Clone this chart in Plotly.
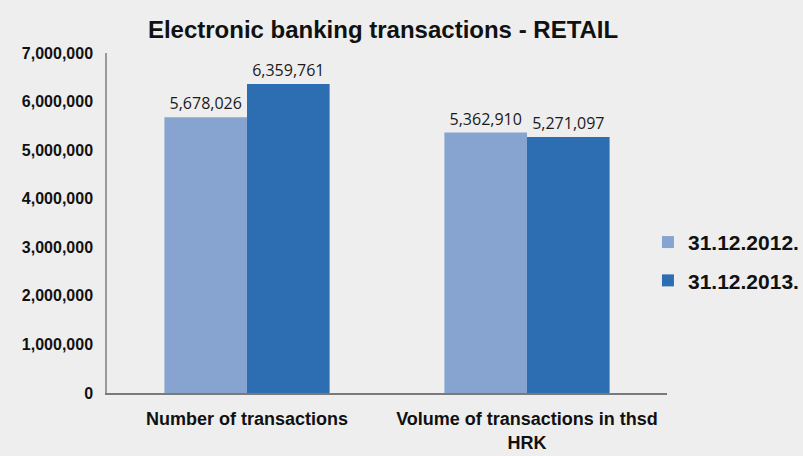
import plotly.graph_objects as go

categories = ["Number of transactions", "Volume of transactions in thsd<br>HRK"]
series_names = ["31.12.2012.", "31.12.2013."]
values_2012 = [5678026, 5362910]
values_2013 = [6359761, 5271097]
tick_vals = [0, 1000000, 2000000, 3000000, 4000000, 5000000, 6000000, 7000000]
tick_text = ["0", "1,000,000", "2,000,000", "3,000,000", "4,000,000", "5,000,000", "6,000,000", "7,000,000"]

colors = ["#87a3cf", "#2d6eb2"]
label_font = dict(family="Open Sans, Liberation Sans, sans-serif", size=16, color="#1a1a1a")
bold_font = "Liberation Sans, Arial, sans-serif"

fig = go.Figure()
for name, vals, col in zip(series_names, [values_2012, values_2013], colors):
    fig.add_trace(go.Bar(
        x=categories, y=vals, name=name, legendgroup=name,
        marker=dict(color=col, line=dict(width=0)),
        text=[f"{v:,}" for v in vals], textposition="outside", textfont=label_font,
        cliponaxis=False,
    ))

fig.update_layout(
    width=803, height=456,
    paper_bgcolor="#eeeeee", plot_bgcolor="#eeeeee",
    margin=dict(l=107, r=136, t=53, b=63, autoexpand=False),
    barmode="group", bargap=0.41, bargroupgap=0,
    title=dict(text="<b>Electronic banking transactions - RETAIL</b>",
               x=0.477, xanchor="center", y=0.934, yanchor="middle",
               font=dict(family=bold_font, size=24, color="#111111")),
    legend=dict(x=0.966, xanchor="left", y=0.387, yanchor="middle",
                font=dict(family=bold_font, size=21, color="#111111", weight="bold"),
                bgcolor="rgba(0,0,0,0)", itemwidth=30, tracegroupgap=8),
    showlegend=True,
    uniformtext=dict(minsize=8, mode="show"),
)
fig.update_yaxes(range=[0, 7000000], tickvals=tick_vals, ticktext=tick_text,
                 showgrid=False, zeroline=False, showline=True, linecolor="#999999", linewidth=1.5,
                 ticks="", ticklabelstandoff=9,
                 tickfont=dict(family=bold_font, size=16, color="#111111", weight="bold"))
fig.update_xaxes(showgrid=False, showline=True, linecolor="#7a7a7a", linewidth=1.5, ticks="",
                 ticklabelstandoff=9,
                 tickfont=dict(family=bold_font, size=18, color="#111111", weight="bold"))

fig.write_html("out.html", config={"displayModeBar": False},
               post_script="document.body.style.margin='0';")
